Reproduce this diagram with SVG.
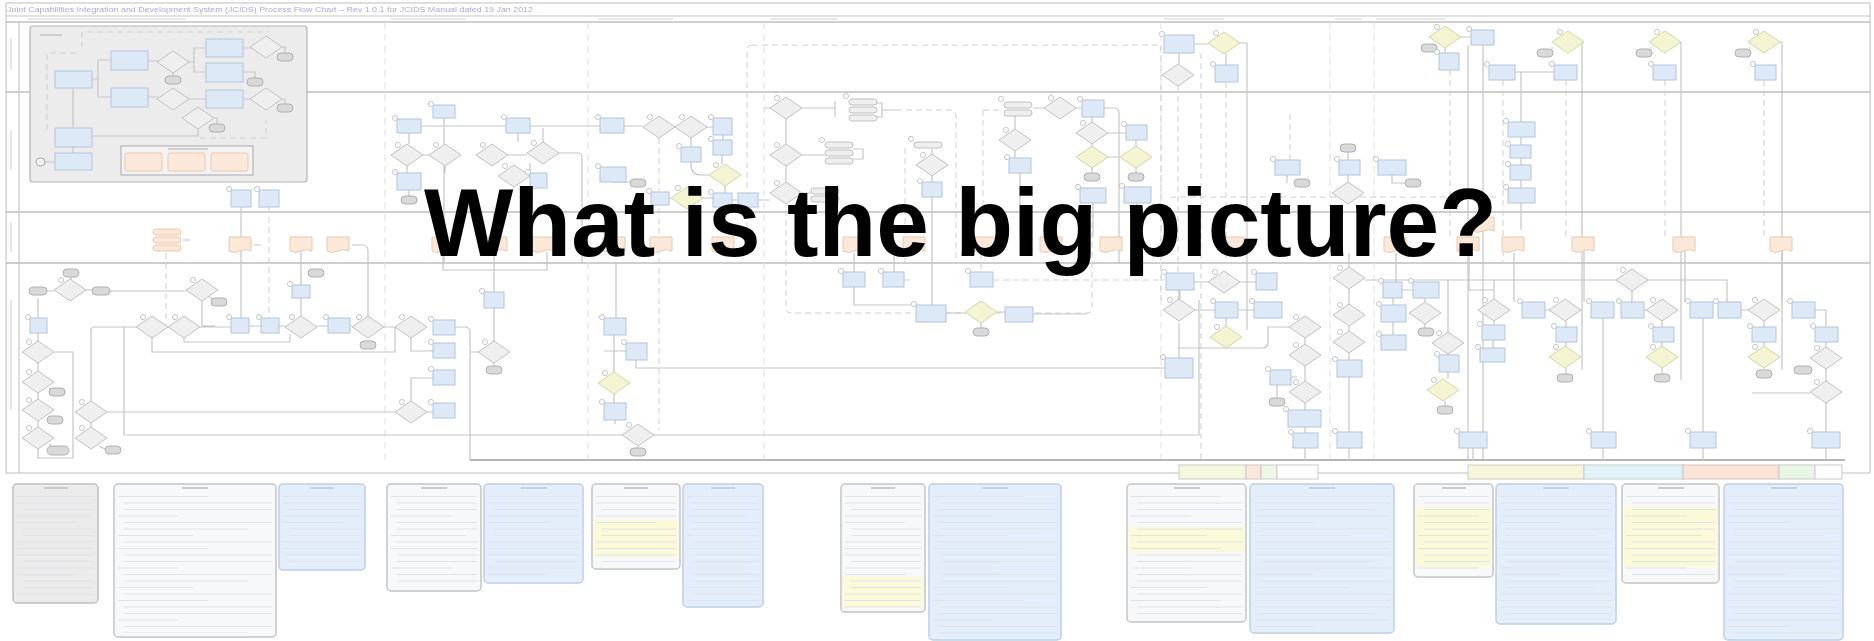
<svg xmlns="http://www.w3.org/2000/svg" xmlns:xlink="http://www.w3.org/1999/xlink" width="1874" height="641" viewBox="0 0 1874 641">
<defs>
<style>
.ln{fill:none;stroke:#c6c6c6;stroke-width:1.2}
.lk{fill:none;stroke:#b6b6b6;stroke-width:2}
.ld{fill:none;stroke:#cfcfcf;stroke-width:1;stroke-dasharray:6 4}
.ph{fill:none;stroke:#dedede;stroke-width:1;stroke-dasharray:7 5}
.lane{fill:none;stroke:#bfbfbf;stroke-width:1.6}
.b{fill:#dde9f6;stroke:#afc5de;stroke-width:1}
.g{fill:#efefef;stroke:#c0c0c0;stroke-width:1}
.y{fill:#f5f4d2;stroke:#d5d3a6;stroke-width:1}
.o{fill:#fbe8d8;stroke:#e8c9ae;stroke-width:1}
.t{fill:#d9d9d9;stroke:#b0b0b0;stroke-width:1}
.c{fill:#ffffff;stroke:#bababa;stroke-width:0.8}
.bar{fill:#e6e6e6}
.note{stroke-width:1.5}
.nw{fill:#f7f8fa;stroke:#c4c4c4}
.nb{fill:#e3eefa;stroke:#bccfe4}
.ng{fill:#ebebeb;stroke:#c0c0c0}
.hl{fill:#fafad8}
.title{font-family:"Liberation Sans",Arial,sans-serif}
</style>
<filter id="soft" x="-2%" y="-2%" width="104%" height="104%"><feGaussianBlur stdDeviation="0.5"/></filter>
<polygon id="dia" points="0,-11 16,0 0,11 -16,0"/>
<rect id="term" x="-8" y="-4" width="16" height="8" rx="4"/>
<circle id="tag" r="2.6"/>
<path id="doc" d="M0,0 H22 V14 Q16.5,11 11,14 T0,14 Z"/>
<rect id="stk" x="0" y="0" width="28" height="6" rx="3"/>
<pattern id="tx" width="300" height="52" patternUnits="userSpaceOnUse">
<path d="M0,3.5 H190 M0,10 H150 M6,16.5 H120 M0,23 H175 M0,29.5 H60 M6,36 H160 M6,42.5 H95 M0,49 H180" stroke="#dfe2e6" stroke-width="1.2"/>
</pattern>
<pattern id="tx2" width="300" height="52" patternUnits="userSpaceOnUse">
<path d="M0,3.5 H90 M6,10 H200 M6,16.5 H170 M0,23 H60 M6,29.5 H185 M6,36 H130 M0,42.5 H75 M6,49 H190" stroke="#dfe2e6" stroke-width="1.2"/>
</pattern>
</defs>

<rect width="1874" height="641" fill="#ffffff"/>

<g id="chart" filter="url(#soft)">
<!-- swimlane frame, lanes and phase dividers -->
<g id="frame">
<rect x="6" y="3" width="1864" height="470" fill="none" stroke="#c8c8c8" stroke-width="1.2"/>
<text class="title" x="7" y="12" font-size="7.4" fill="#a9a9d6" textLength="526" lengthAdjust="spacingAndGlyphs">Joint Capabilities Integration and Development System (JCIDS) Process Flow Chart – Rev 1.0.1 for JCIDS Manual dated 19 Jan 2012</text>
<path class="ln" d="M6,16 H1870"/>
<path class="lane" d="M6,22 H1870"/>
<path class="lane" d="M6,92 H1870 M6,212 H1870 M6,263 H1870"/>
<path class="ln" d="M19,22 V473"/>
<rect class="bar" x="28" y="18" width="158" height="2"/>
<rect class="bar" x="391" y="18" width="75" height="2"/>
<rect class="bar" x="598" y="18" width="75" height="2"/>
<rect class="bar" x="770" y="18" width="67" height="2"/>
<rect class="bar" x="1164" y="18" width="60" height="2"/>
<rect class="bar" x="1335" y="18" width="27" height="2"/>
<rect class="bar" x="1376" y="18" width="69" height="2"/>
<rect class="bar" x="10" y="38" width="2" height="32"/>
<rect class="bar" x="10" y="130" width="2" height="40"/>
<rect class="bar" x="10" y="222" width="2" height="30"/>
<rect class="bar" x="10" y="300" width="2" height="110"/>
<path class="ph" d="M385,22 V460 M588,22 V460 M764,22 V460 M1161,22 V460 M1330,22 V460 M1374,22 V460"/>
</g>

<!-- connectors -->
<g id="connectors">
<!-- lane 2, left -->
<path class="ln" d="M241,207 V318 M444,118 V263 M421,126 H600 M409,133 V144 M423,155 h6 M445,166 V173 M407,166 v7 M409,190 v6 M518,133 V142 M508,155 h19 M530,163 v10 M543,142 V128 M559,153 h18 q5,0 5,5 V263"/>
<path class="ld" d="M269,207 V318 M166,253 V330"/>
<!-- lane 2, centre -->
<path class="ln" d="M624,126 H643 M707,127 H713 M691,138 V165 q0,10 10,10 H709 M691,152 h-10 M723,135 v5 M722,155 v9 M725,186 v7 M613,182 h17 M669,198 h2 M703,198 h10 M732,200 h6 M758,200 h12 M691,208 V237 M764,108 H770 M802,108 H835 M835,101 v16 M877,103 h5 v14 h-5 M882,110 h14 M786,119 V182 M802,155 H825 M802,193 H811 M853,149 h10 v10 h-10"/>
<path class="ld" d="M659,138 V430 M896,110 H950 q6,0 6,6 V263 M905,148 V263 M983,110 V213 M983,110 h20"/>
<path class="ln" d="M1033,108 H1044 M1076,108 H1082 M1015,129 V113 M1015,151 v7 M1020,173 V237 M932,149 V154 M932,176 V182 M932,197 V305 M1092,122 V117 M1092,144 V146 M1092,168 v5 M1108,157 h12 M1136,146 V140 M1136,168 v5 M1108,133 H1126 M1093,203 V237 M1137,203 V237 M1104,108 h10 q5,0 5,5 V263"/>
<path class="ld" d="M752,45 H1161 M752,45 q-5,0 -5,5 V255 M786,200 V308 q0,5 5,5 H1087 q5,0 5,-5 V215 M1161,45 V300"/>
<!-- lane 1 and 2, right -->
<path class="ln" d="M1194,44 H1208 M1179,53 V64 M1226,54 V65 M1240,43 h7 V330 M1461,37 H1471 M1445,48 V53 M1468,45 V460 M1483,45 V460 M1515,72 H1554 M1521,72 V122 M1521,137 v8 M1521,158 v7 M1521,180 v8 M1521,203 V230 M1584,42 h-2 V370 M1681,42 V380 M1780,42 h2 V370 M1553,48 h-2 M1652,48 h-2 M1751,48 h-2 M1287,175 v8 M1348,152 v8 M1348,175 v7 M1392,175 v8 h13"/>
<path class="ld" d="M1178,86 V300 M1201,53 V460 M1226,82 V260 M1450,70 V237 M1503,80 V263 M1566,80 V237 M1665,80 V237 M1764,80 V237 M1170,197 H1500 M1290,160 V110"/>
<!-- lane 3 -->
<path class="ln" d="M253,245 h8 M301,251 V285 M301,298 V316 M352,245 h10 q6,0 6,6 V316 M443,252 V270 H547 V252 M182,240 h8"/>
<!-- lane 4, left -->
<path class="ln" d="M47,291 h7 M86,290 h6 M71,277 v3 M110,291 H186 M208,296 l6,4 M202,301 V326 H215 M38,298 V318 M38,333 V341 M38,363 V371 M38,393 V399 M38,421 V427 M49,388 l8,4 M49,416 l6,4 M49,444 l6,6 M54,352 H73 V458 H38 V449 M107,412 H395 M91,401 V330 q0,-3 3,-3 H136 M91,423 V427 M99,446 l8,4 M124,327 V435 H1199 V300 M200,327 H231 M152,338 V352 H395 V327 M184,338 V342 H290 V334 M249,326 h12 M279,326 h6 M317,326 h11 M350,326 h2 M384,327 h11 M411,338 v13 h22 M411,401 V378 h22 M427,412 H433 M455,327 h10 q5,0 5,5 V460"/>
<path class="lk" d="M470,460 H1845"/>
<path class="ln" d="M470,352 H478 M494,363 V366 M494,212 V292 M494,308 V341 M616,263 V318 M614,335 V372 M626,351 h-22 M614,394 V403 M615,420 V424 M638,446 V448 M636,360 V368 H1165"/>
<!-- lane 4, centre -->
<path class="ln" d="M854,253 V272 M854,287 V305 H916 M894,253 V272 M946,313 H965 M997,312 H1005 M981,323 V328 M1033,314 H1087 M1179,290 V301 M1179,323 V358"/>
<path class="ld" d="M993,280 H1165 M904,280 h8 M981,253 V272"/>
<!-- lane 4, right -->
<path class="ln" d="M1194,282 H1208 M1240,282 H1256 M1180,290 V299 M1194,310 H1215 M1238,310 H1254 M1226,318 V326 M1178,348 H1262 q6,0 6,-6 V327 H1289 M1305,338 V344 M1305,366 V381 M1291,377 h6 M1305,403 V410 M1277,385 V398 M1305,427 V433 M1305,448 V460 M1349,267 V253 M1365,280 H1727 V302 M1349,289 V304 M1349,326 V331 M1349,353 V360 M1349,377 V460 M1402,290 h11 M1393,298 V305 M1393,322 V335 M1425,298 V302 M1425,324 V328 M1448,332 V280 M1448,354 V355 M1448,372 V379 M1445,401 V406 M1473,448 V460 M1494,299 V280 M1494,321 V325 M1493,340 V348 M1545,310 H1549 M1566,321 V327 M1566,342 V346 M1566,368 V374 M1603,318 V432 M1603,448 V460 M1632,291 V302 M1644,310 H1646 M1662,321 V327 M1662,342 V346 M1662,368 V374 M1703,318 V432 M1703,448 V460 M1741,310 H1748 M1764,321 V327 M1764,342 V346 M1764,368 V369 M1815,310 h11 V327 M1826,342 V347 M1826,369 V381 M1826,403 V432 M1826,448 V460 M1752,393 H1810 M1396,253 V282 M1469,251 V290 H1494 M1514,253 V302 M1584,251 V302 M1685,251 V302 M1782,251 V302"/>
</g>

<!-- legend inset -->
<g id="legend">
<rect x="30" y="26" width="277" height="156" rx="3" fill="#ececec" stroke="#b4b4b4" stroke-width="1.2"/>
<rect x="40" y="34" width="22" height="2" fill="#cfcfcf"/>
<path class="ln" d="M92,79 h6 v-19 h13 M98,79 v18 h13 M148,61 h10 M188,62 h6 v-14 h12 M194,62 v10 h12 M173,73 v3 M148,97 h10 M188,99 h18 M243,48 h10 M279,47 h6 v6 M243,72 h12 v6 M243,99 h10 M279,99 h6 v5 M73,88 v40 M92,136 h106 v-7 M214,118 h3 v6 M73,147 v6 M45,162 h10"/>
<path class="ld" d="M87,32 H269 M82,32 v15 M47,130 V53 h32 M200,138 h66 v-18"/>
<g id="lg1"><rect class="b" x="55" y="71" width="37" height="17"/></g>
<g id="lg2"><rect class="b" x="111" y="51" width="37" height="19"/></g>
<g id="lg3"><rect class="b" x="111" y="88" width="37" height="19"/></g>
<g id="lg4"><rect class="b" x="206" y="39" width="37" height="18"/></g>
<g id="lg5"><rect class="b" x="206" y="63" width="37" height="19"/></g>
<g id="lg6"><rect class="b" x="206" y="90" width="37" height="18"/></g>
<g id="lg7"><rect class="b" x="55" y="128" width="37" height="19"/></g>
<g id="lg8"><rect class="b" x="55" y="153" width="37" height="17"/></g>
<g id="lg9"><use href="#dia" class="g" x="173" y="62"/><use href="#term" class="t" x="173" y="80"/></g>
<g id="lg10"><use href="#dia" class="g" x="173" y="99"/></g>
<g id="lg11"><use href="#dia" class="g" x="266" y="47"/><use href="#term" class="t" x="285" y="57"/></g>
<g id="lg12"><use href="#dia" class="g" x="266" y="99"/><use href="#term" class="t" x="285" y="108"/></g>
<g id="lg13"><use href="#dia" class="g" x="198" y="118"/><use href="#term" class="t" x="217" y="128"/></g>
<g id="lg14"><use href="#term" class="t" x="255" y="82"/></g>
<g id="lg15"><rect x="36" y="158" width="9" height="8" rx="4" fill="#f2f2f2" stroke="#a9a9a9"/></g>
<g id="lg16"><rect x="121" y="146" width="132" height="29" fill="#f3f3f3" stroke="#a8a8a8"/><rect x="168" y="148" width="40" height="2" fill="#cfcfcf"/><rect class="o" x="125" y="153" width="37" height="18" rx="2"/><rect class="o" x="168" y="153" width="37" height="18" rx="2"/><rect class="o" x="211" y="153" width="37" height="18" rx="2"/></g>
</g>

<!-- upper lane nodes -->
<g id="upper">
<g id="n1"><rect class="b" x="231" y="190" width="20" height="17"/><use href="#tag" class="c" x="229" y="189"/></g>
<g id="n2"><rect class="b" x="259" y="190" width="20" height="17"/><use href="#tag" class="c" x="257" y="189"/></g>
<g id="n3"><rect class="b" x="433" y="105" width="22" height="13"/><use href="#tag" class="c" x="431" y="104"/></g>
<g id="n4"><rect class="b" x="397" y="119" width="24" height="14"/><use href="#tag" class="c" x="395" y="118"/></g>
<g id="n5"><use href="#dia" class="g" x="407" y="155"/><use href="#tag" class="c" x="398" y="145"/></g>
<g id="n6"><use href="#dia" class="g" x="445" y="155"/><use href="#tag" class="c" x="436" y="145"/></g>
<g id="n7"><rect class="b" x="397" y="173" width="24" height="17"/><use href="#tag" class="c" x="395" y="172"/></g>
<g id="n8"><use href="#term" class="t" x="409" y="200"/></g>
<g id="n9"><rect class="b" x="506" y="118" width="24" height="15"/><use href="#tag" class="c" x="504" y="117"/></g>
<g id="n10"><use href="#dia" class="g" x="492" y="155"/><use href="#tag" class="c" x="483" y="145"/></g>
<g id="n11"><use href="#dia" class="g" x="543" y="153"/><use href="#tag" class="c" x="534" y="143"/></g>
<g id="n12"><use href="#dia" class="g" x="514" y="176"/><use href="#tag" class="c" x="505" y="166"/></g>
<g id="n13"><rect class="b" x="530" y="173" width="17" height="15"/><use href="#tag" class="c" x="528" y="172"/></g>
<g id="n14"><rect class="b" x="600" y="118" width="24" height="15"/><use href="#tag" class="c" x="598" y="117"/></g>
<g id="n15"><use href="#dia" class="g" x="659" y="127"/><use href="#tag" class="c" x="650" y="117"/></g>
<g id="n16"><use href="#dia" class="g" x="691" y="127"/><use href="#tag" class="c" x="682" y="117"/></g>
<g id="n17"><rect class="b" x="713" y="118" width="19" height="17"/><use href="#tag" class="c" x="711" y="117"/></g>
<g id="n18"><rect class="b" x="681" y="147" width="20" height="15"/><use href="#tag" class="c" x="679" y="146"/></g>
<g id="n19"><rect class="b" x="713" y="140" width="19" height="15"/><use href="#tag" class="c" x="711" y="139"/></g>
<g id="n20"><rect class="b" x="600" y="167" width="26" height="15"/><use href="#tag" class="c" x="598" y="166"/><use href="#term" class="t" x="638" y="183"/></g>
<g id="n21"><use href="#dia" class="y" x="725" y="175"/><use href="#tag" class="c" x="716" y="165"/></g>
<g id="n22"><rect class="b" x="651" y="192" width="18" height="13"/><use href="#tag" class="c" x="649" y="191"/></g>
<g id="n23"><use href="#dia" class="y" x="687" y="198"/><use href="#tag" class="c" x="678" y="188"/></g>
<g id="n24"><rect class="b" x="713" y="193" width="19" height="14"/><use href="#tag" class="c" x="711" y="192"/></g>
<g id="n25"><rect class="b" x="738" y="193" width="20" height="14"/></g>
<g id="n26"><use href="#dia" class="g" x="786" y="108"/><use href="#tag" class="c" x="777" y="98"/></g>
<g id="n27"><use href="#stk" class="g" x="849" y="99"/><use href="#stk" class="g" x="849" y="107"/><use href="#stk" class="g" x="849" y="115"/><use href="#tag" class="c" x="846" y="96"/></g>
<g id="n28"><use href="#dia" class="g" x="786" y="155"/><use href="#tag" class="c" x="777" y="145"/></g>
<g id="n29"><use href="#stk" class="g" x="825" y="142"/><use href="#stk" class="g" x="825" y="150"/><use href="#stk" class="g" x="825" y="158"/><use href="#tag" class="c" x="822" y="140"/></g>
<g id="n30"><use href="#dia" class="g" x="786" y="193"/><use href="#tag" class="c" x="777" y="183"/></g>
<g id="n31"><use href="#stk" class="g" x="811" y="188"/><use href="#stk" class="g" x="811" y="196"/></g>
<g id="n32"><use href="#stk" class="g" x="1004" y="102"/><use href="#stk" class="g" x="1004" y="110"/><use href="#tag" class="c" x="1001" y="99"/></g>
<g id="n33"><use href="#dia" class="g" x="1060" y="108"/><use href="#tag" class="c" x="1051" y="98"/></g>
<g id="n34"><rect class="b" x="1082" y="100" width="22" height="17"/><use href="#tag" class="c" x="1080" y="99"/></g>
<g id="n35"><use href="#dia" class="g" x="1015" y="140"/><use href="#tag" class="c" x="1006" y="130"/></g>
<g id="n36"><rect class="b" x="1009" y="158" width="22" height="15"/><use href="#tag" class="c" x="1007" y="157"/></g>
<g id="n37"><use href="#stk" class="g" x="914" y="142"/><use href="#tag" class="c" x="911" y="139"/></g>
<g id="n38"><use href="#dia" class="g" x="932" y="165"/><use href="#tag" class="c" x="923" y="155"/></g>
<g id="n39"><rect class="b" x="922" y="182" width="20" height="15"/><use href="#tag" class="c" x="920" y="181"/></g>
<g id="n40"><use href="#dia" class="g" x="1092" y="133"/><use href="#tag" class="c" x="1083" y="123"/></g>
<g id="n41"><rect class="b" x="1126" y="125" width="21" height="15"/><use href="#tag" class="c" x="1124" y="124"/></g>
<g id="n42"><use href="#dia" class="y" x="1092" y="157"/><use href="#term" class="t" x="1092" y="177"/></g>
<g id="n43"><use href="#dia" class="y" x="1136" y="157"/><use href="#term" class="t" x="1136" y="177"/></g>
<g id="n44"><rect class="b" x="1080" y="188" width="26" height="15"/><use href="#tag" class="c" x="1078" y="187"/></g>
<g id="n45"><rect class="b" x="1124" y="187" width="27" height="16"/><use href="#tag" class="c" x="1122" y="186"/></g>
<g id="n46"><rect class="b" x="1164" y="35" width="30" height="18"/><use href="#tag" class="c" x="1162" y="34"/></g>
<g id="n47"><use href="#dia" class="g" x="1178" y="75"/></g>
<g id="n48"><use href="#dia" class="y" x="1224" y="43"/><use href="#tag" class="c" x="1216" y="33"/></g>
<g id="n49"><rect class="b" x="1215" y="65" width="23" height="17"/><use href="#tag" class="c" x="1213" y="64"/></g>
<g id="n50"><use href="#dia" class="y" x="1445" y="37"/><use href="#term" class="t" x="1429" y="48"/><use href="#tag" class="c" x="1437" y="27"/></g>
<g id="n51"><rect class="b" x="1471" y="30" width="23" height="15"/><use href="#tag" class="c" x="1469" y="29"/></g>
<g id="n52"><rect class="b" x="1439" y="53" width="20" height="17"/><use href="#tag" class="c" x="1437" y="52"/></g>
<g id="n53"><rect class="b" x="1489" y="65" width="26" height="15"/><use href="#tag" class="c" x="1487" y="64"/></g>
<g id="n54"><rect class="b" x="1554" y="65" width="23" height="15"/><use href="#tag" class="c" x="1552" y="64"/></g>
<g id="n55"><use href="#dia" class="y" x="1568" y="42"/><use href="#term" class="t" x="1545" y="53"/><use href="#tag" class="c" x="1560" y="32"/></g>
<g id="n56"><use href="#dia" class="y" x="1665" y="42"/><use href="#term" class="t" x="1644" y="53"/><use href="#tag" class="c" x="1657" y="32"/></g>
<g id="n57"><rect class="b" x="1653" y="65" width="23" height="15"/><use href="#tag" class="c" x="1651" y="64"/></g>
<g id="n58"><use href="#dia" class="y" x="1764" y="42"/><use href="#term" class="t" x="1743" y="53"/><use href="#tag" class="c" x="1756" y="32"/></g>
<g id="n59"><rect class="b" x="1755" y="65" width="21" height="15"/><use href="#tag" class="c" x="1753" y="64"/></g>
<g id="n60"><rect class="b" x="1508" y="122" width="27" height="15"/><use href="#tag" class="c" x="1506" y="121"/></g>
<g id="n61"><rect class="b" x="1510" y="145" width="21" height="13"/><use href="#tag" class="c" x="1508" y="144"/></g>
<g id="n62"><rect class="b" x="1510" y="165" width="21" height="15"/><use href="#tag" class="c" x="1508" y="164"/></g>
<g id="n63"><rect class="b" x="1508" y="188" width="27" height="15"/><use href="#tag" class="c" x="1506" y="187"/></g>
<g id="n64"><rect class="b" x="1275" y="160" width="25" height="15"/><use href="#tag" class="c" x="1273" y="159"/><use href="#term" class="t" x="1302" y="183"/></g>
<g id="n65"><use href="#term" class="t" x="1348" y="148"/><rect class="b" x="1339" y="160" width="21" height="15"/><use href="#tag" class="c" x="1337" y="159"/></g>
<g id="n66"><use href="#dia" class="g" x="1348" y="193"/></g>
<g id="n67"><rect class="b" x="1378" y="160" width="28" height="15"/><use href="#tag" class="c" x="1376" y="159"/><use href="#term" class="t" x="1413" y="183"/></g>
</g>

<!-- lane 3 documents -->
<g id="docs">
<g id="d0"><use href="#stk" class="o" x="153" y="229"/><use href="#stk" class="o" x="153" y="237"/><use href="#stk" class="o" x="153" y="245"/></g>
<g id="d1"><use href="#doc" class="o" x="229" y="237"/></g>
<g id="d2"><use href="#doc" class="o" x="290" y="237"/><use href="#term" class="t" x="316" y="273"/></g>
<g id="d3"><use href="#doc" class="o" x="327" y="237"/></g>
<g id="d4"><use href="#doc" class="o" x="432" y="237"/></g>
<g id="d5"><use href="#doc" class="o" x="485" y="237"/></g>
<g id="d6"><use href="#doc" class="o" x="532" y="237"/></g>
<g id="d7"><use href="#doc" class="o" x="603" y="237"/></g>
<g id="d8"><use href="#doc" class="o" x="650" y="237"/></g>
<g id="d9"><use href="#doc" class="o" x="712" y="237"/></g>
<g id="d10"><use href="#doc" class="o" x="843" y="237"/></g>
<g id="d11"><use href="#doc" class="o" x="903" y="237"/></g>
<g id="d12"><use href="#doc" class="o" x="975" y="237"/></g>
<g id="d13"><use href="#doc" class="o" x="1040" y="237"/></g>
<g id="d14"><use href="#doc" class="o" x="1100" y="237"/></g>
<g id="d15"><use href="#doc" class="o" x="1222" y="237"/></g>
<g id="d16"><use href="#doc" class="o" x="1384" y="237"/></g>
<g id="d17"><use href="#doc" class="o" x="1457" y="237"/></g>
<g id="d18"><use href="#doc" class="o" x="1472" y="217"/></g>
<g id="d19"><use href="#doc" class="o" x="1502" y="237"/></g>
<g id="d20"><use href="#doc" class="o" x="1572" y="237"/></g>
<g id="d21"><use href="#doc" class="o" x="1673" y="237"/></g>
<g id="d22"><use href="#doc" class="o" x="1770" y="237"/></g>
</g>

<!-- lower lane nodes -->
<g id="lower">
<g id="m1"><use href="#term" class="t" x="71" y="273"/></g>
<g id="m2"><use href="#dia" class="g" x="70" y="290"/><use href="#tag" class="c" x="61" y="280"/></g>
<g id="m3"><rect class="t" x="29" y="287" width="18" height="8" rx="4"/></g>
<g id="m4"><rect class="t" x="92" y="287" width="18" height="8" rx="4"/></g>
<g id="m5"><use href="#dia" class="g" x="202" y="290"/><use href="#tag" class="c" x="193" y="280"/><use href="#term" class="t" x="219" y="302"/></g>
<g id="m6"><rect class="b" x="30" y="318" width="17" height="15"/><use href="#tag" class="c" x="28" y="317"/></g>
<g id="m7"><use href="#dia" class="g" x="38" y="352"/><use href="#tag" class="c" x="29" y="342"/></g>
<g id="m8"><use href="#dia" class="g" x="38" y="382"/><use href="#tag" class="c" x="29" y="372"/><use href="#term" class="t" x="57" y="392"/></g>
<g id="m9"><use href="#dia" class="g" x="38" y="410"/><use href="#tag" class="c" x="29" y="400"/><use href="#term" class="t" x="55" y="420"/></g>
<g id="m10"><use href="#dia" class="g" x="38" y="438"/><use href="#tag" class="c" x="29" y="428"/><rect class="t" x="47" y="446" width="22" height="9" rx="4.5"/></g>
<g id="m11"><use href="#dia" class="g" x="91" y="412"/><use href="#tag" class="c" x="82" y="402"/></g>
<g id="m12"><use href="#dia" class="g" x="91" y="438"/><use href="#tag" class="c" x="82" y="428"/><use href="#term" class="t" x="113" y="450"/></g>
<g id="m13"><use href="#dia" class="g" x="152" y="327"/><use href="#tag" class="c" x="143" y="317"/></g>
<g id="m14"><use href="#dia" class="g" x="184" y="327"/><use href="#tag" class="c" x="175" y="317"/></g>
<g id="m15"><rect class="b" x="231" y="318" width="18" height="15"/><use href="#tag" class="c" x="229" y="317"/></g>
<g id="m16"><rect class="b" x="261" y="318" width="18" height="15"/><use href="#tag" class="c" x="259" y="317"/></g>
<g id="m17"><rect class="b" x="292" y="285" width="18" height="13"/><use href="#tag" class="c" x="290" y="284"/></g>
<g id="m18"><use href="#dia" class="g" x="301" y="327"/><use href="#tag" class="c" x="292" y="317"/></g>
<g id="m19"><rect class="b" x="328" y="318" width="22" height="15"/><use href="#tag" class="c" x="326" y="317"/></g>
<g id="m20"><use href="#dia" class="g" x="368" y="327"/><use href="#tag" class="c" x="359" y="317"/><use href="#term" class="t" x="368" y="345"/></g>
<g id="m21"><use href="#dia" class="g" x="411" y="327"/><use href="#tag" class="c" x="402" y="317"/></g>
<g id="m22"><rect class="b" x="433" y="320" width="22" height="15"/><use href="#tag" class="c" x="431" y="319"/></g>
<g id="m23"><rect class="b" x="433" y="343" width="22" height="15"/><use href="#tag" class="c" x="431" y="342"/></g>
<g id="m24"><rect class="b" x="433" y="370" width="22" height="15"/><use href="#tag" class="c" x="431" y="369"/></g>
<g id="m25"><use href="#dia" class="g" x="411" y="412"/><use href="#tag" class="c" x="402" y="402"/></g>
<g id="m26"><rect class="b" x="433" y="403" width="22" height="15"/><use href="#tag" class="c" x="431" y="402"/></g>
<g id="m27"><rect class="b" x="484" y="292" width="20" height="16"/><use href="#tag" class="c" x="482" y="291"/></g>
<g id="m28"><use href="#dia" class="g" x="494" y="352"/><use href="#tag" class="c" x="485" y="342"/><use href="#term" class="t" x="494" y="370"/></g>
<g id="m29"><rect class="b" x="604" y="318" width="22" height="17"/><use href="#tag" class="c" x="602" y="317"/></g>
<g id="m30"><rect class="b" x="626" y="343" width="21" height="17"/><use href="#tag" class="c" x="624" y="342"/></g>
<g id="m31"><use href="#dia" class="y" x="614" y="383"/><use href="#tag" class="c" x="605" y="373"/></g>
<g id="m32"><rect class="b" x="604" y="403" width="22" height="17"/><use href="#tag" class="c" x="602" y="402"/></g>
<g id="m33"><use href="#dia" class="g" x="638" y="435"/><use href="#tag" class="c" x="629" y="425"/><use href="#term" class="t" x="638" y="452"/></g>
<g id="m34"><rect class="b" x="843" y="272" width="22" height="15"/><use href="#tag" class="c" x="841" y="271"/></g>
<g id="m35"><rect class="b" x="883" y="272" width="21" height="15"/><use href="#tag" class="c" x="881" y="271"/></g>
<g id="m36"><rect class="b" x="970" y="272" width="23" height="15"/><use href="#tag" class="c" x="968" y="271"/></g>
<g id="m37"><rect class="b" x="916" y="305" width="30" height="17"/><use href="#tag" class="c" x="914" y="304"/></g>
<g id="m38"><use href="#dia" class="y" x="981" y="312"/><use href="#term" class="t" x="981" y="332"/></g>
<g id="m39"><rect class="b" x="1005" y="307" width="28" height="15"/></g>
<g id="m40"><rect class="b" x="1165" y="358" width="28" height="20"/><use href="#tag" class="c" x="1163" y="357"/></g>
<g id="m41"><rect class="b" x="1166" y="273" width="28" height="17"/><use href="#tag" class="c" x="1164" y="272"/></g>
<g id="m42"><use href="#dia" class="g" x="1224" y="282"/><use href="#tag" class="c" x="1215" y="272"/></g>
<g id="m43"><rect class="b" x="1256" y="273" width="21" height="17"/><use href="#tag" class="c" x="1254" y="272"/></g>
<g id="m44"><use href="#dia" class="g" x="1179" y="310"/><use href="#tag" class="c" x="1170" y="300"/></g>
<g id="m45"><rect class="b" x="1215" y="302" width="23" height="16"/><use href="#tag" class="c" x="1213" y="301"/></g>
<g id="m46"><rect class="b" x="1254" y="302" width="28" height="16"/><use href="#tag" class="c" x="1252" y="301"/></g>
<g id="m47"><use href="#dia" class="y" x="1226" y="337"/><use href="#tag" class="c" x="1217" y="327"/></g>
<g id="m48"><use href="#dia" class="g" x="1305" y="327"/><use href="#tag" class="c" x="1296" y="317"/></g>
<g id="m49"><use href="#dia" class="g" x="1305" y="355"/><use href="#tag" class="c" x="1296" y="345"/></g>
<g id="m50"><rect class="b" x="1270" y="370" width="21" height="15"/><use href="#tag" class="c" x="1268" y="369"/><use href="#term" class="t" x="1277" y="402"/></g>
<g id="m51"><use href="#dia" class="g" x="1305" y="392"/><use href="#tag" class="c" x="1296" y="382"/></g>
<g id="m52"><rect class="b" x="1288" y="410" width="33" height="17"/><use href="#tag" class="c" x="1286" y="409"/></g>
<g id="m53"><rect class="b" x="1293" y="433" width="25" height="15"/><use href="#tag" class="c" x="1291" y="432"/></g>
<g id="m54"><use href="#dia" class="g" x="1349" y="278"/><use href="#tag" class="c" x="1340" y="268"/></g>
<g id="m55"><use href="#dia" class="g" x="1349" y="315"/><use href="#tag" class="c" x="1340" y="305"/></g>
<g id="m56"><use href="#dia" class="g" x="1349" y="342"/><use href="#tag" class="c" x="1340" y="332"/></g>
<g id="m57"><rect class="b" x="1337" y="360" width="25" height="17"/><use href="#tag" class="c" x="1335" y="359"/></g>
<g id="m58"><rect class="b" x="1337" y="432" width="25" height="16"/><use href="#tag" class="c" x="1335" y="431"/></g>
<g id="m59"><rect class="b" x="1383" y="282" width="19" height="16"/><use href="#tag" class="c" x="1381" y="281"/></g>
<g id="m60"><rect class="b" x="1381" y="305" width="25" height="17"/><use href="#tag" class="c" x="1379" y="304"/></g>
<g id="m61"><rect class="b" x="1381" y="335" width="25" height="15"/><use href="#tag" class="c" x="1379" y="334"/></g>
<g id="m62"><rect class="b" x="1413" y="282" width="26" height="16"/><use href="#tag" class="c" x="1411" y="281"/></g>
<g id="m63"><use href="#dia" class="g" x="1425" y="313"/><use href="#term" class="t" x="1426" y="332"/></g>
<g id="m64"><use href="#dia" class="g" x="1448" y="343"/><use href="#tag" class="c" x="1439" y="333"/></g>
<g id="m65"><rect class="b" x="1439" y="355" width="20" height="17"/><use href="#tag" class="c" x="1437" y="354"/></g>
<g id="m66"><use href="#dia" class="y" x="1443" y="390"/><use href="#tag" class="c" x="1434" y="380"/><use href="#term" class="t" x="1445" y="410"/></g>
<g id="m67"><rect class="b" x="1459" y="432" width="28" height="16"/><use href="#tag" class="c" x="1457" y="431"/></g>
<g id="m68"><use href="#dia" class="g" x="1494" y="310"/><use href="#tag" class="c" x="1485" y="300"/></g>
<g id="m69"><rect class="b" x="1482" y="325" width="23" height="15"/><use href="#tag" class="c" x="1480" y="324"/></g>
<g id="m70"><rect class="b" x="1480" y="348" width="25" height="14"/><use href="#tag" class="c" x="1478" y="347"/></g>
<g id="m71"><rect class="b" x="1522" y="302" width="23" height="16"/><use href="#tag" class="c" x="1520" y="301"/></g>
<g id="m72"><use href="#dia" class="g" x="1565" y="310"/><use href="#tag" class="c" x="1556" y="300"/></g>
<g id="m73"><rect class="b" x="1556" y="327" width="21" height="15"/><use href="#tag" class="c" x="1554" y="326"/></g>
<g id="m74"><use href="#dia" class="y" x="1565" y="357"/><use href="#tag" class="c" x="1556" y="347"/><use href="#term" class="t" x="1565" y="378"/></g>
<g id="m75"><rect class="b" x="1591" y="302" width="23" height="16"/><use href="#tag" class="c" x="1589" y="301"/></g>
<g id="m76"><rect class="b" x="1591" y="432" width="25" height="16"/><use href="#tag" class="c" x="1589" y="431"/></g>
<g id="m77"><use href="#dia" class="g" x="1632" y="280"/><use href="#tag" class="c" x="1623" y="270"/></g>
<g id="m78"><rect class="b" x="1621" y="302" width="23" height="16"/><use href="#tag" class="c" x="1619" y="301"/></g>
<g id="m79"><use href="#dia" class="g" x="1662" y="310"/><use href="#tag" class="c" x="1653" y="300"/></g>
<g id="m80"><rect class="b" x="1653" y="327" width="21" height="15"/><use href="#tag" class="c" x="1651" y="326"/></g>
<g id="m81"><use href="#dia" class="y" x="1662" y="357"/><use href="#tag" class="c" x="1653" y="347"/><use href="#term" class="t" x="1662" y="378"/></g>
<g id="m82"><rect class="b" x="1690" y="302" width="23" height="16"/><use href="#tag" class="c" x="1688" y="301"/></g>
<g id="m83"><rect class="b" x="1718" y="302" width="23" height="16"/><use href="#tag" class="c" x="1716" y="301"/></g>
<g id="m84"><use href="#dia" class="g" x="1764" y="310"/><use href="#tag" class="c" x="1755" y="300"/></g>
<g id="m85"><rect class="b" x="1752" y="327" width="24" height="15"/><use href="#tag" class="c" x="1750" y="326"/></g>
<g id="m86"><use href="#dia" class="y" x="1764" y="357"/><use href="#tag" class="c" x="1755" y="347"/><use href="#term" class="t" x="1764" y="374"/></g>
<g id="m87"><rect class="b" x="1792" y="302" width="23" height="16"/><use href="#tag" class="c" x="1790" y="301"/></g>
<g id="m88"><rect class="b" x="1815" y="327" width="23" height="15"/><use href="#tag" class="c" x="1813" y="326"/></g>
<g id="m89"><use href="#dia" class="g" x="1826" y="358"/><use href="#tag" class="c" x="1817" y="348"/><rect class="t" x="1794" y="366" width="18" height="8" rx="4"/></g>
<g id="m90"><use href="#dia" class="g" x="1826" y="392"/><use href="#tag" class="c" x="1817" y="382"/></g>
<g id="m91"><rect class="b" x="1690" y="432" width="26" height="16"/><use href="#tag" class="c" x="1688" y="431"/></g>
<g id="m92"><rect class="b" x="1812" y="432" width="28" height="16"/><use href="#tag" class="c" x="1810" y="431"/></g>
</g>

<!-- colour key strips on the bottom border -->
<g id="key1" stroke="#c9c9c9" stroke-width="1">
<rect x="1179" y="465" width="67" height="14" fill="#f6f8de"/>
<rect x="1246" y="465" width="15" height="14" fill="#fbe6dc"/>
<rect x="1261" y="465" width="16" height="14" fill="#eef7e6"/>
<rect x="1277" y="465" width="41" height="14" fill="#ffffff"/>
</g>
<g id="key2" stroke="#c9c9c9" stroke-width="1">
<rect x="1468" y="465" width="116" height="14" fill="#f8f6d8"/>
<rect x="1584" y="465" width="99" height="14" fill="#e2f3f7"/>
<rect x="1683" y="465" width="96" height="14" fill="#fbe3d5"/>
<rect x="1779" y="465" width="36" height="14" fill="#e8f6e6"/>
<rect x="1815" y="465" width="27" height="14" fill="#ffffff"/>
</g>

<!-- note panels below the chart; the text block of each panel is a translated rect so the line pattern starts at its left edge -->
<g id="notes">
<g id="p1"><rect class="note ng" x="13" y="484" width="85" height="119" rx="4"/><rect transform="translate(17,493)" width="77" height="106" fill="url(#tx)"/><rect x="44" y="487" width="24" height="2" fill="#cacaca"/></g>
<g id="p2"><rect class="note nw" x="114" y="484" width="162" height="153" rx="4"/><rect transform="translate(118,493)" width="154" height="140" fill="url(#tx2)"/><rect x="182" y="487" width="26" height="2" fill="#cacaca"/></g>
<g id="p3"><rect class="note nb" x="279" y="484" width="86" height="86" rx="4"/><rect transform="translate(283,493)" width="78" height="73" fill="url(#tx)"/><rect x="310" y="487" width="24" height="2" fill="#c6d2de"/></g>
<g id="p4"><rect class="note nw" x="387" y="484" width="94" height="107" rx="4"/><rect transform="translate(391,493)" width="86" height="94" fill="url(#tx2)"/><rect x="421" y="487" width="26" height="2" fill="#cacaca"/></g>
<g id="p5"><rect class="note nb" x="484" y="484" width="99" height="99" rx="4"/><rect transform="translate(488,493)" width="91" height="86" fill="url(#tx)"/><rect x="521" y="487" width="26" height="2" fill="#c6d2de"/></g>
<g id="p6"><rect class="note nw" x="592" y="484" width="88" height="85" rx="4"/><rect class="hl" x="594" y="520" width="84" height="37"/><rect transform="translate(596,493)" width="80" height="72" fill="url(#tx)"/><rect x="624" y="487" width="24" height="2" fill="#cacaca"/></g>
<g id="p7"><rect class="note nb" x="683" y="484" width="80" height="123" rx="4"/><rect transform="translate(687,493)" width="72" height="110" fill="url(#tx2)"/><rect x="711" y="487" width="24" height="2" fill="#c6d2de"/></g>
<g id="p8"><rect class="note nw" x="841" y="484" width="84" height="128" rx="4"/><rect class="hl" x="843" y="577" width="80" height="30"/><rect transform="translate(845,493)" width="76" height="115" fill="url(#tx)"/><rect x="871" y="487" width="24" height="2" fill="#cacaca"/></g>
<g id="p9"><rect class="note nb" x="929" y="484" width="132" height="156" rx="4"/><rect transform="translate(933,493)" width="124" height="143" fill="url(#tx2)"/><rect x="982" y="487" width="26" height="2" fill="#c6d2de"/></g>
<g id="p10"><rect class="note nw" x="1127" y="484" width="119" height="138" rx="4"/><rect class="hl" x="1129" y="527" width="115" height="25"/><rect transform="translate(1131,493)" width="111" height="125" fill="url(#tx2)"/><rect x="1174" y="487" width="26" height="2" fill="#cacaca"/></g>
<g id="p11"><rect class="note nb" x="1250" y="484" width="144" height="149" rx="4"/><rect transform="translate(1254,493)" width="136" height="136" fill="url(#tx)"/><rect x="1309" y="487" width="26" height="2" fill="#c6d2de"/></g>
<g id="p12"><rect class="note nw" x="1414" y="484" width="79" height="93" rx="4"/><rect class="hl" x="1416" y="507" width="75" height="60"/><rect transform="translate(1418,493)" width="71" height="80" fill="url(#tx2)"/><rect x="1442" y="487" width="24" height="2" fill="#cacaca"/></g>
<g id="p13"><rect class="note nb" x="1496" y="484" width="120" height="140" rx="4"/><rect transform="translate(1500,493)" width="112" height="127" fill="url(#tx)"/><rect x="1543" y="487" width="26" height="2" fill="#c6d2de"/></g>
<g id="p14"><rect class="note nw" x="1622" y="484" width="97" height="99" rx="4"/><rect class="hl" x="1624" y="507" width="93" height="60"/><rect transform="translate(1626,493)" width="89" height="86" fill="url(#tx2)"/><rect x="1658" y="487" width="26" height="2" fill="#cacaca"/></g>
<g id="p15"><rect class="note nb" x="1724" y="484" width="119" height="156" rx="4"/><rect transform="translate(1728,493)" width="111" height="143" fill="url(#tx)"/><rect x="1771" y="487" width="26" height="2" fill="#c6d2de"/></g>
</g>
</g>

<!-- headline over the chart -->
<g id="headline">
<text class="title" x="424" y="256" font-size="97" font-weight="bold" fill="#000000" textLength="1073" lengthAdjust="spacingAndGlyphs">What is the big picture?</text>
</g>
</svg>
